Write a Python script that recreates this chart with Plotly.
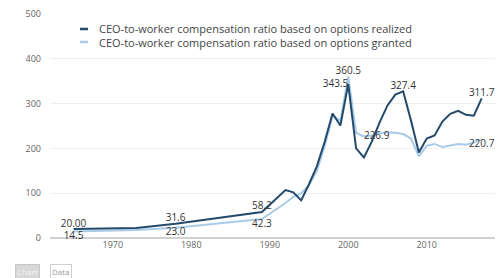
import plotly.graph_objects as go

years = [1965, 1973, 1978, 1989, 1992, 1993, 1994, 1995, 1996, 1997, 1998, 1999,
         2000, 2001, 2002, 2003, 2004, 2005, 2006, 2007, 2008, 2009, 2010, 2011,
         2012, 2013, 2014, 2015, 2016, 2017]
realized = [20.0, 22.3, 31.6, 58.2, 107, 102, 84, 120, 160, 215, 278, 251,
            343.5, 200, 180, 215, 258, 296, 320, 327.4, 262, 191, 222, 229,
            260, 277, 284, 275, 273, 311.7]
granted = [14.5, 18, 23.0, 42.3, 78, 92, 100, 118, 150, 205, 272, 262,
           360.5, 235, 226.9, 229, 234, 236, 235, 232, 222, 182, 206, 210,
           203, 206, 210, 208, 213, 220.7]

realized_labels = {1965: "20.00", 1978: "31.6", 1989: "58.2", 2000: "343.5",
                   2007: "327.4", 2017: "311.7"}
granted_labels = {1965: "14.5", 1978: "23.0", 1989: "42.3", 2000: "360.5",
                  2002: "226.9", 2017: "220.7"}

series_names = ["CEO-to-worker compensation ratio based on options realized",
                "CEO-to-worker compensation ratio based on options granted"]
x_ticks = [1970, 1980, 1990, 2000, 2010]
y_ticks = [0, 100, 200, 300, 400, 500]

DARK = "#244a6b"
LIGHT = "#a9cbe8"

r_pos = {2000: "middle left"}
g_pos = {2000: "top center", 2002: "middle right"}

fig = go.Figure()
fig.add_trace(go.Scatter(
    x=years, y=granted, mode="lines+text", name=series_names[1],
    line=dict(color=LIGHT, width=2),
    text=[granted_labels.get(y, "") for y in years],
    textposition=[g_pos.get(y, "bottom center") for y in years],
    textfont=dict(family="Open Sans", size=10, color="#333"),
    cliponaxis=False, showlegend=False))
fig.add_trace(go.Scatter(
    x=years, y=realized, mode="lines+text", name=series_names[0],
    line=dict(color=DARK, width=2),
    text=[realized_labels.get(y, "") for y in years],
    textposition=[r_pos.get(y, "top center") for y in years],
    textfont=dict(family="Open Sans", size=10, color="#333"),
    cliponaxis=False, showlegend=False))

# manual legend
for i, (name, col) in enumerate(zip(series_names, [DARK, LIGHT])):
    yy = 29 + 13 * i
    fig.add_shape(type="line", xref="paper", yref="paper",
                  x0=(80 - 50) / 445, x1=(88 - 50) / 445,
                  y0=(238 - yy) / 224, y1=(238 - yy) / 224,
                  line=dict(color=col, width=2.5))
    fig.add_annotation(text=name, xref="paper", yref="paper",
                       x=(97 - 50) / 445, y=(238 - yy) / 224,
                       xanchor="left", yanchor="middle", showarrow=False,
                       font=dict(family="Open Sans", size=11, color="#444"))

# Chart / Data buttons
fig.add_annotation(text="Chart", xref="paper", yref="paper",
                   x=(15 - 50) / 445, y=(238 - 271) / 224,
                   xanchor="left", yanchor="middle", showarrow=False,
                   bgcolor="#d8d8d8", bordercolor="#c8c8c8", borderwidth=1,
                   borderpad=1, font=dict(family="Open Sans", size=8, color="#f4f4f4"))
fig.add_annotation(text="Data", xref="paper", yref="paper",
                   x=(50 - 50) / 445, y=(238 - 271) / 224,
                   xanchor="left", yanchor="middle", showarrow=False,
                   bgcolor="white", bordercolor="#cfcfcf", borderwidth=1,
                   borderpad=1, font=dict(family="Open Sans", size=8, color="#999"))

fig.update_layout(
    width=500, height=278,
    margin=dict(l=50, r=5, t=14, b=40),
    paper_bgcolor="white", plot_bgcolor="white",
    font=dict(family="Open Sans", size=9, color="#555"),
    xaxis=dict(range=[1962, 2018.7], tickvals=x_ticks, showgrid=False,
               zeroline=False, showline=False, ticks="",
               tickfont=dict(size=9, color="#666")),
    yaxis=dict(range=[0, 500], tickvals=y_ticks, showgrid=True,
               gridcolor="#efefef", gridwidth=1, zeroline=True,
               zerolinecolor="#d0d0d0", zerolinewidth=1.5, showline=False,
               ticks="", ticklabelstandoff=8,
               tickfont=dict(size=9, color="#666")),
)

fig.write_html("out.html", config={"displayModeBar": False},
               post_script="document.body.style.margin='0';document.body.style.overflow='hidden';")
